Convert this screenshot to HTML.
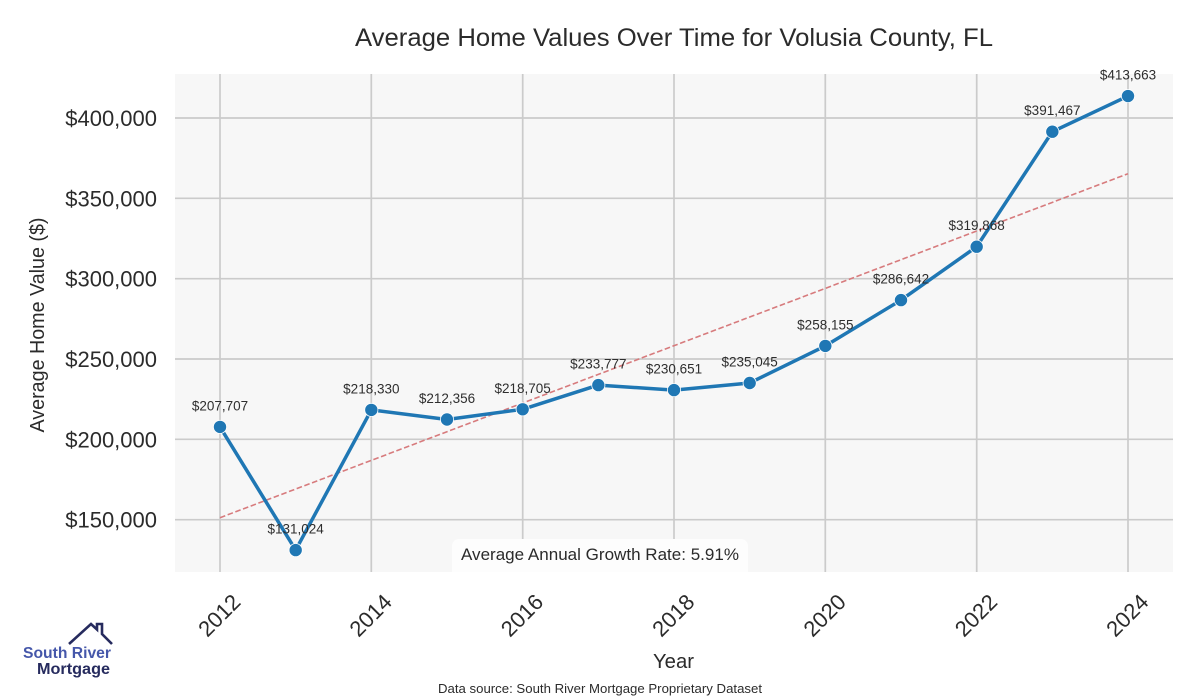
<!DOCTYPE html>
<html>
<head>
<meta charset="utf-8">
<style>
html,body{margin:0;padding:0;background:#ffffff;}
svg{display:block;}
text{font-family:"Liberation Sans",Arial,sans-serif;}
</style>
</head>
<body>
<svg width="1200" height="700" viewBox="0 0 1200 700" xmlns="http://www.w3.org/2000/svg">
  <rect x="0" y="0" width="1200" height="700" fill="#ffffff"/>
  <!-- plot background -->
  <rect x="175" y="74" width="998" height="498" fill="#f7f7f7"/>

  <!-- grid -->
  <g stroke="#cbcbcb" stroke-width="1.7">
    <line x1="175" x2="1173" y1="118" y2="118"/>
    <line x1="175" x2="1173" y1="198.3" y2="198.3"/>
    <line x1="175" x2="1173" y1="278.7" y2="278.7"/>
    <line x1="175" x2="1173" y1="359" y2="359"/>
    <line x1="175" x2="1173" y1="439.3" y2="439.3"/>
    <line x1="175" x2="1173" y1="519.7" y2="519.7"/>
    <line x1="220" x2="220" y1="74" y2="572"/>
    <line x1="371.3" x2="371.3" y1="74" y2="572"/>
    <line x1="522.7" x2="522.7" y1="74" y2="572"/>
    <line x1="674" x2="674" y1="74" y2="572"/>
    <line x1="825.3" x2="825.3" y1="74" y2="572"/>
    <line x1="976.7" x2="976.7" y1="74" y2="572"/>
    <line x1="1128" x2="1128" y1="74" y2="572"/>
  </g>

  <!-- trend line -->
  <line x1="220" y1="517.7" x2="1128" y2="173.7" stroke="#d77b7d" stroke-width="1.6" stroke-dasharray="5.6,2.6"/>

  <!-- growth rate box -->
  <rect x="452" y="539" width="296" height="40" rx="7" ry="7" fill="#fdfdfd"/>
  <rect x="175" y="572" width="998" height="10" fill="#ffffff"/>
  <text x="600" y="560" font-size="17" fill="#2b2b2b" text-anchor="middle" textLength="278" lengthAdjust="spacingAndGlyphs">Average Annual Growth Rate: 5.91%</text>

  <!-- data line -->
  <polyline fill="none" stroke="#1f77b4" stroke-width="3.5" stroke-linejoin="round"
    points="220,426.9 295.67,550.1 371.33,409.9 447,419.5 522.67,409.3 598.33,385.1 674,390.1 749.67,383 825.33,345.9 901,300.1 976.67,246.7 1052.33,131.7 1128,96.05"/>
  <g fill="#1f77b4" stroke="#ffffff" stroke-width="0.8">
    <circle cx="220" cy="426.9" r="6.6"/>
    <circle cx="295.67" cy="550.1" r="6.6"/>
    <circle cx="371.33" cy="409.9" r="6.6"/>
    <circle cx="447" cy="419.5" r="6.6"/>
    <circle cx="522.67" cy="409.3" r="6.6"/>
    <circle cx="598.33" cy="385.1" r="6.6"/>
    <circle cx="674" cy="390.1" r="6.6"/>
    <circle cx="749.67" cy="383" r="6.6"/>
    <circle cx="825.33" cy="345.9" r="6.6"/>
    <circle cx="901" cy="300.1" r="6.6"/>
    <circle cx="976.67" cy="246.7" r="6.6"/>
    <circle cx="1052.33" cy="131.7" r="6.6"/>
    <circle cx="1128" cy="96.05" r="6.6"/>
  </g>

  <!-- data labels -->
  <g font-size="13.5" fill="#2e2e2e" text-anchor="middle">
    <text x="220" y="410.4">$207,707</text>
    <text x="295.67" y="533.6">$131,024</text>
    <text x="371.33" y="393.4">$218,330</text>
    <text x="447" y="403">$212,356</text>
    <text x="522.67" y="392.8">$218,705</text>
    <text x="598.33" y="368.6">$233,777</text>
    <text x="674" y="373.6">$230,651</text>
    <text x="749.67" y="366.5">$235,045</text>
    <text x="825.33" y="329.4">$258,155</text>
    <text x="901" y="283.6">$286,642</text>
    <text x="976.67" y="230.2">$319,868</text>
    <text x="1052.33" y="115.2">$391,467</text>
    <text x="1128" y="79.5">$413,663</text>
  </g>

  <!-- y tick labels -->
  <g font-size="22" fill="#2b2b2b" text-anchor="end">
    <text x="157" y="126">$400,000</text>
    <text x="157" y="206.3">$350,000</text>
    <text x="157" y="286.7">$300,000</text>
    <text x="157" y="367">$250,000</text>
    <text x="157" y="447.3">$200,000</text>
    <text x="157" y="527.7">$150,000</text>
  </g>

  <!-- x tick labels -->
  <g font-size="22" fill="#2b2b2b" text-anchor="middle">
    <text x="219" y="623" transform="rotate(-45 219 615)">2012</text>
    <text x="370.3" y="623" transform="rotate(-45 370.3 615)">2014</text>
    <text x="521.7" y="623" transform="rotate(-45 521.7 615)">2016</text>
    <text x="673" y="623" transform="rotate(-45 673 615)">2018</text>
    <text x="824.3" y="623" transform="rotate(-45 824.3 615)">2020</text>
    <text x="975.7" y="623" transform="rotate(-45 975.7 615)">2022</text>
    <text x="1127" y="623" transform="rotate(-45 1127 615)">2024</text>
  </g>

  <!-- title and axis labels -->
  <text x="355" y="46" font-size="25" fill="#2b2b2b" textLength="638" lengthAdjust="spacingAndGlyphs">Average Home Values Over Time for Volusia County, FL</text>
  <text x="0" y="0" font-size="20" fill="#2b2b2b" text-anchor="middle" textLength="215" lengthAdjust="spacingAndGlyphs" transform="translate(44 325) rotate(-90)">Average Home Value ($)</text>
  <text x="653" y="668" font-size="20" fill="#2b2b2b" textLength="41" lengthAdjust="spacingAndGlyphs">Year</text>
  <text x="438" y="693" font-size="13" fill="#2b2b2b" textLength="324" lengthAdjust="spacingAndGlyphs">Data source: South River Mortgage Proprietary Dataset</text>

  <!-- logo -->
  <polyline points="69,644 91,624 97,629.5 97,624 102,624 102,634 112,644" fill="none" stroke="#262b5e" stroke-width="2.6" stroke-linejoin="miter"/>
  <text x="23" y="658" font-size="16" font-weight="bold" fill="#4557aa" textLength="88" lengthAdjust="spacingAndGlyphs">South River</text>
  <text x="37" y="674" font-size="16" font-weight="bold" fill="#262b5e" textLength="73" lengthAdjust="spacingAndGlyphs">Mortgage</text>
</svg>
</body>
</html>
